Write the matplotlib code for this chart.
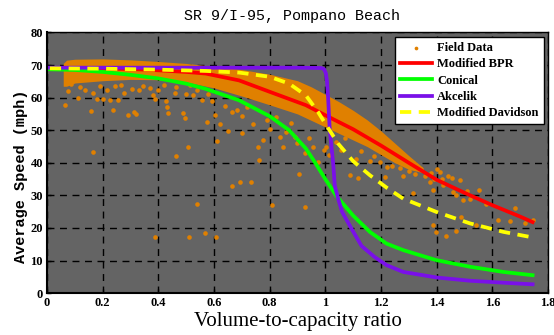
import matplotlib
matplotlib.use('Agg')
import matplotlib.pyplot as plt

# dense part of the field data (band edges)
band_x = [0.058, 0.07, 0.1, 0.2, 0.3, 0.4, 0.5, 0.6, 0.7, 0.8, 0.9, 0.95, 1.0, 1.05, 1.1, 1.15, 1.2, 1.25, 1.3, 1.35]
band_hi = [70.5, 71.5, 71.8, 71.9, 71.6, 71.1, 70.5, 69.6, 68.6, 67.2, 65.2, 63.3, 61.0, 58.7, 56.1, 53.2, 49.8, 46.0, 42.2, 38.6]
band_lo = [63.5, 63.5, 64.5, 65.2, 65.6, 65.5, 64.8, 63.0, 60.5, 57.8, 55.0, 53.0, 51.0, 49.0, 47.0, 45.0, 42.5, 40.0, 38.0, 37.0]

# scattered field data points
field_x = [0.064, 0.076, 0.085, 0.112, 0.12, 0.135, 0.158, 0.166, 0.178, 0.19, 0.2, 0.215, 0.226, 0.238,
           0.245, 0.256, 0.265, 0.278, 0.292, 0.305, 0.313, 0.321, 0.33, 0.345, 0.37, 0.379, 0.387, 0.40,
           0.42, 0.429, 0.432, 0.436, 0.458, 0.464, 0.487, 0.497, 0.50, 0.512, 0.525, 0.54, 0.555, 0.573, 0.58,
           0.164, 0.462, 0.505, 0.387, 0.511, 0.569, 0.606, 0.537,
           0.591, 0.603, 0.61, 0.621, 0.651, 0.64, 0.665, 0.681, 0.70, 0.699, 0.72, 0.74, 0.759, 0.762, 0.776,
           0.789, 0.80, 0.824, 0.836, 0.848, 0.86, 0.878, 0.89, 0.90, 0.926, 0.94, 0.955, 0.974, 0.995,
           0.665, 0.695, 0.732, 0.81, 0.906, 0.926,
           1.004, 1.015, 1.04, 1.055, 1.07, 1.088, 1.112, 1.118, 1.13, 1.16, 1.175, 1.195, 1.213, 1.222, 1.24,
           1.267, 1.28, 1.30, 1.315, 1.321, 1.327,
           1.345, 1.36, 1.375, 1.38, 1.387, 1.39, 1.40, 1.411, 1.42, 1.423, 1.44, 1.456, 1.459, 1.47, 1.485,
           1.495, 1.51, 1.52, 1.543, 1.554, 1.578, 1.62, 1.662, 1.683, 1.716, 1.746, 1.387, 1.399, 1.432, 1.468, 1.489]
field_y = [57.7, 62.0, 64.2, 59.9, 63.2, 62.5, 55.8, 61.5, 59.6, 63.5, 59.5, 62.4, 59.2, 56.2,
           63.6, 59.2, 64.0, 61.4, 54.6, 62.8, 55.6, 55.0, 62.2, 63.5, 63.1, 60.7, 59.7, 62.3,
           63.8, 58.9, 57.1, 55.4, 61.5, 63.3, 55.3, 53.8, 61.2, 64.0, 60.7, 62.5, 59.3, 52.6, 61.0,
           43.3, 42.0, 44.9, 17.2, 17.2, 18.5, 17.2, 27.5,
           58.9, 54.6, 46.8, 51.8, 49.8, 57.5, 55.5, 56.1, 54.5, 49.0, 57.0, 52.0, 44.9, 40.8, 46.9,
           53.1, 50.5, 54.1, 47.9, 44.9, 49.5, 52.1, 48.0, 46.2, 42.9, 47.5, 45.0, 40.3, 43.9,
           32.9, 34.1, 34.1, 27.2, 36.7, 26.5,
           44.9, 42.5, 46.4, 44.0, 47.5, 36.2, 41.3, 35.2, 43.5, 40.5, 42.0, 40.3, 35.7, 38.6, 39.0,
           38.3, 36.0, 37.5, 30.6, 36.7, 38.7,
           38.0, 36.0, 34.1, 37.0, 31.6, 35.0, 38.0, 37.2, 35.0, 33.1, 36.0, 35.2, 31.1, 30.0, 34.7,
           28.5, 31.5, 29.0, 20.9, 31.6, 27.5, 22.4, 22.1, 26.2, 21.4, 22.4, 20.9, 18.8, 17.5, 19.1, 23.4]

# model curves
bpr_x = [0.01, 0.2, 0.3, 0.4, 0.5, 0.57, 0.69, 0.8, 0.93, 1.0, 1.1, 1.2, 1.3, 1.4, 1.5, 1.6, 1.7, 1.745]
bpr_y = [69.0, 68.9, 68.8, 68.4, 67.9, 67.4, 65.3, 61.8, 57.7, 54.6, 50.3, 45.3, 40.0, 34.8, 30.8, 27.0, 23.5, 21.8]

con_x = [0.01, 0.1, 0.2, 0.3, 0.4, 0.5, 0.57, 0.69, 0.8, 0.87, 0.93, 0.96, 1.0, 1.04, 1.1, 1.16, 1.22, 1.28,
         1.4, 1.52, 1.64, 1.745]
con_y = [68.7, 68.5, 67.9, 67.0, 65.9, 64.3, 62.7, 59.2, 54.3, 50.0, 44.4, 40.5, 35.0, 29.8, 23.8, 18.8, 15.2,
         13.2, 10.1, 8.1, 6.5, 5.5]

akc_x = [0.01, 0.5, 0.9, 0.985, 0.995, 1.002, 1.006, 1.010, 1.016, 1.028, 1.034, 1.046, 1.06, 1.094, 1.13,
         1.177, 1.22, 1.28, 1.4, 1.52, 1.64, 1.745]
akc_y = [69.2, 69.2, 69.2, 69.1, 68.8, 67.5, 65.0, 60.0, 50.0, 40.0, 33.0, 29.0, 25.0, 19.8, 14.5,
         11.1, 8.6, 6.5, 4.8, 3.8, 3.2, 2.7]

dav_x = [0.01, 0.2, 0.4, 0.57, 0.69, 0.8, 0.87, 0.93, 0.974, 1.0, 1.046, 1.1, 1.16, 1.22, 1.28, 1.4, 1.52,
         1.64, 1.745]
dav_y = [69.0, 68.9, 68.6, 68.2, 67.7, 66.4, 64.3, 60.7, 55.6, 52.0, 45.9, 40.5, 36.2, 32.4, 29.0, 24.9,
         21.4, 18.8, 17.1]

orange = '#E08000'

fig = plt.figure(figsize=(5.54, 3.35), dpi=100)
ax = fig.add_axes([0.085, 0.125, 0.904, 0.778])
ax.set_facecolor('#646464')

ax.fill_between(band_x, band_lo, band_hi, color=orange, lw=0, zorder=2)
ax.scatter(field_x, field_y, s=11, color=orange, lw=0, zorder=2, label='Field Data')

ax.plot(bpr_x, bpr_y, color='#FF0000', lw=2.7, zorder=3, label='Modified BPR')
ax.plot(con_x, con_y, color='#00FF00', lw=2.7, zorder=3, label='Conical')
ax.plot(akc_x, akc_y, color='#7A10E8', lw=2.7, zorder=4, label='Akcelik')
ax.plot(dav_x, dav_y, color='#FFFF00', lw=2.7, ls=(0, (3, 2)), zorder=5, label='Modified Davidson')

ax.set_xlim(0, 1.8)
ax.set_ylim(0, 80)
xt = [0, 0.2, 0.4, 0.6, 0.8, 1.0, 1.2, 1.4, 1.6, 1.8]
ax.set_xticks(xt)
ax.set_xticklabels(['0', '0.2', '0.4', '0.6', '0.8', '1', '1.2', '1.4', '1.6', '1.8'])
ax.set_yticks(range(0, 81, 10))
for lab in ax.get_xticklabels() + ax.get_yticklabels():
    lab.set_family('Liberation Serif')
    lab.set_weight('bold')
    lab.set_fontsize(9)
ax.tick_params(direction='in', length=3, width=1, pad=3)
ax.grid(True, color='black', lw=1.0, ls=(0, (5, 4)), zorder=1)
ax.set_axisbelow(True)
for s in ax.spines.values():
    s.set_linewidth(1.0)
ax.spines['left'].set_linewidth(1.5)
ax.spines['bottom'].set_linewidth(1.5)

ax.set_title('SR 9/I-95, Pompano Beach', family='Liberation Mono', fontsize=10.8, pad=9, x=0.49)
ax.set_ylabel('Average Speed (mph)', family='Liberation Mono', weight='bold', fontsize=11)
ax.yaxis.set_label_coords(-0.038, 0.45)
ax.set_xlabel('Volume-to-capacity ratio', family='Liberation Serif', fontsize=15, labelpad=2)

leg = ax.legend(loc='upper right', prop={'family': 'Liberation Serif', 'weight': 'bold', 'size': 9},
                fancybox=False, framealpha=1, edgecolor='black', borderaxespad=0.35,
                handlelength=2.6, handletextpad=0.4, labelspacing=0.35, markerscale=0.8,
                borderpad=0.4)
leg.get_frame().set_linewidth(1.0)

fig.savefig('out.png', dpi=100)
